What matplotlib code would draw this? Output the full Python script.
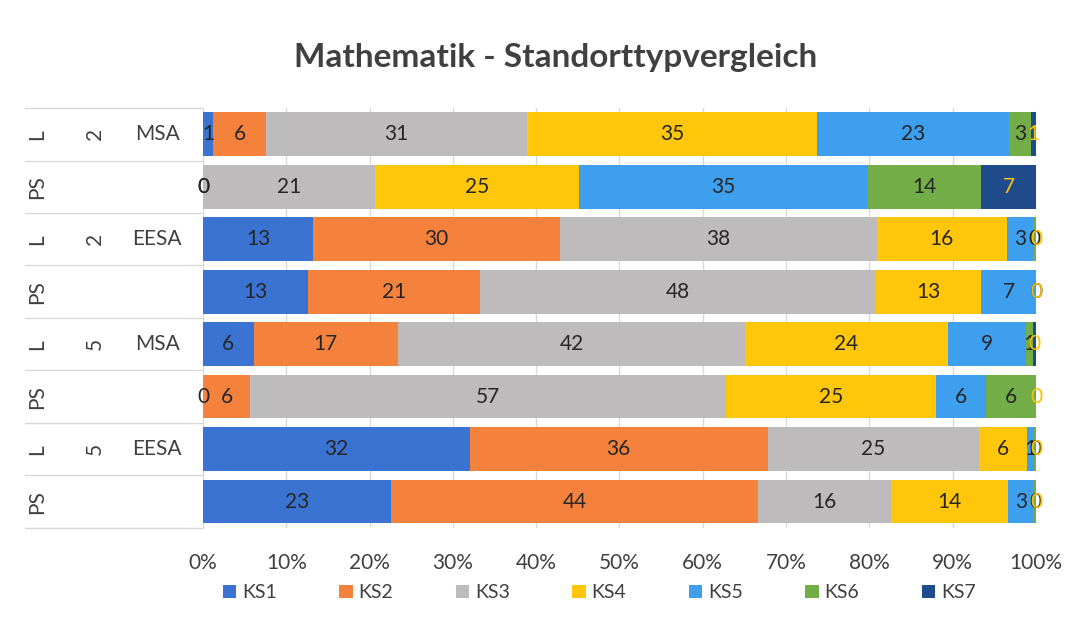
import numpy as np
import matplotlib.pyplot as plt
from matplotlib.transforms import blended_transform_factory

plt.rcParams['font.family'] = ['Lato', 'DejaVu Sans']

# Data (rows top to bottom), shares in percent per KS level
series = ['KS1', 'KS2', 'KS3', 'KS4', 'KS5', 'KS6', 'KS7']
row_type = ['L', 'PS', 'L', 'PS', 'L', 'PS', 'L', 'PS']
row_grade = ['2', '', '2', '', '5', '', '5', '']
row_school = ['MSA', '', 'EESA', '', 'MSA', '', 'EESA', '']

ks1 = [1.2, 0.0, 13.2, 12.6, 6.1, 0.0, 32.0, 22.6]
ks2 = [6.4, 0.0, 29.7, 20.6, 17.3, 5.7, 35.8, 44.0]
ks3 = [31.3, 20.6, 38.0, 47.6, 41.7, 57.1, 25.3, 16.0]
ks4 = [34.8, 24.6, 15.6, 12.6, 24.3, 25.2, 5.8, 14.0]
ks5 = [23.1, 34.6, 3.1, 6.6, 9.4, 6.0, 0.9, 3.2]
ks6 = [2.6, 13.6, 0.4, 0.0, 0.9, 6.0, 0.2, 0.2]
ks7 = [0.6, 6.6, 0.0, 0.0, 0.3, 0.0, 0.0, 0.0]

colors = ['#3a73d2', '#f5823c', '#bdbbbb', '#ffc60a', '#3d9fee', '#72ad48', '#1f4b8c']
label_colors = ['#262626'] * 6 + ['#ffc000']

fig = plt.figure(figsize=(10.74, 6.43), dpi=100)
ax = fig.add_axes([0.189, 0.179, 0.7756, 0.653])

y = np.arange(len(row_type))
left = np.zeros(len(row_type))
for name, vals, col, lcol in zip(series, [ks1, ks2, ks3, ks4, ks5, ks6, ks7], colors, label_colors):
    vals = np.array(vals)
    ax.barh(y, vals, left=left, height=0.83, color=col, label=name, zorder=2)
    for yi, (l, v) in enumerate(zip(left, vals)):
        ax.text(l + v / 2, yi, f'{v:.0f}', ha='center', va='center',
                fontsize=15, color=lcol, zorder=3)
    left += vals

ax.set_xlim(0, 100)
ax.set_ylim(len(row_type) - 0.5, -0.5)
ax.set_xticks(np.arange(0, 101, 10))
ax.set_xticklabels([f'{t}%' for t in range(0, 101, 10)], fontsize=15, color='#404040')
ax.set_yticks([])
ax.tick_params(axis='x', length=0, pad=18)
ax.grid(axis='x', color='#d9d9d9', linewidth=1, zorder=0)
for s in ax.spines.values():
    s.set_visible(False)

# multi-level category labels on the left
tr = blended_transform_factory(ax.transAxes, ax.transData)
for i in range(len(row_type)):
    ax.text(-0.199, i, row_type[i], transform=tr, rotation=90, ha='center', va='center',
            fontsize=15, color='#404040')
    ax.text(-0.13, i, row_grade[i], transform=tr, rotation=90, ha='center', va='center',
            fontsize=15, color='#404040')
    ax.text(-0.055, i, row_school[i], transform=tr, ha='center', va='center',
            fontsize=15, color='#404040')
for b in np.arange(-0.5, len(row_type), 1.0):
    ax.plot([-0.214, 0], [b, b], transform=tr, color='#d9d9d9', linewidth=1, clip_on=False)

fig.text(0.517, 0.91, 'Mathematik - Standorttypvergleich', ha='center', va='center',
         fontsize=24, fontweight='bold', color='#404040')

fig.legend(loc='center', bbox_to_anchor=(0.558, 0.078), ncol=7, frameon=False,
           fontsize=14, handlelength=0.7, handleheight=0.7, handletextpad=0.3,
           columnspacing=3.2, labelcolor='#404040')

fig.savefig('out.png', dpi=100)
